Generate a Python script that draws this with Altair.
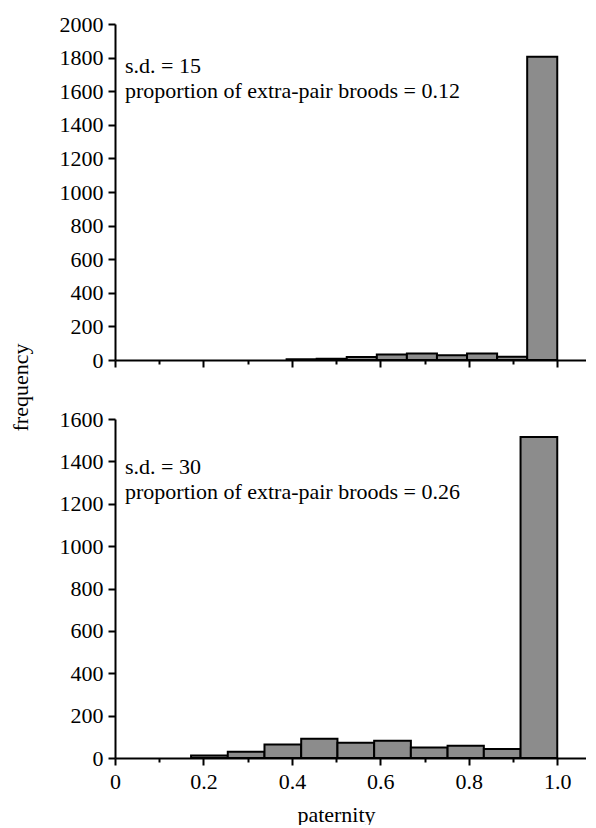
import altair as alt
import pandas as pd

# ---- data ----
top_lo = [0.388, 0.456, 0.524, 0.592, 0.660, 0.728, 0.796, 0.864, 0.932]
top_hi = [0.456, 0.524, 0.592, 0.660, 0.728, 0.796, 0.864, 0.932, 1.000]
top_count = [4, 7, 18, 32, 38, 28, 38, 20, 1805]

bot_lo = [0.172, 0.255, 0.338, 0.421, 0.503, 0.586, 0.669, 0.752, 0.834, 0.917]
bot_hi = [0.255, 0.338, 0.421, 0.503, 0.586, 0.669, 0.752, 0.834, 0.917, 1.000]
bot_count = [12, 30, 64, 91, 72, 82, 49, 58, 42, 1515]

top_text = ["s.d. = 15", "proportion of extra-pair broods = 0.12"]
bot_text = ["s.d. = 30", "proportion of extra-pair broods = 0.26"]

x_ticks = [0.0, 0.1, 0.2, 0.3, 0.4, 0.5, 0.6, 0.7, 0.8, 0.9, 1.0]
top_y_ticks = list(range(0, 2001, 200))
bot_y_ticks = list(range(0, 1601, 200))

FONT = "Liberation Serif"
FS = 22
W = 471
X_DOMAIN = [0, 1.065]

major_tick = {"condition": {"test": "round(datum.value*10) % 2 == 0", "value": 7}, "value": 4}


def panel(lo, hi, counts, ymax, yticks, lines, height, bottom):
    df = pd.DataFrame({"lo": lo, "hi": hi, "count": counts})
    if bottom:
        xaxis = alt.Axis(values=x_ticks, tickSize=major_tick, labelFlush=False,
                         labelOverlap=False, labelPadding=6,
                         labelExpr="round(datum.value*10) % 2 == 0 ? (datum.value == 0 ? '0' : format(datum.value, '.1f')) : ''",
                         title="paternity", titleX=221, titleY=63,
                         titleBaseline="alphabetic", titleAlign="center",
                         titleFontWeight="normal", titleFontSize=FS, titleFont=FONT)
        yaxis = alt.Axis(values=yticks, title=None, tickSize=7, labelPadding=5, format="d")
    else:
        xaxis = alt.Axis(values=x_ticks, tickSize=major_tick, labels=False, title=None)
        yaxis = alt.Axis(values=yticks, tickSize=7, labelPadding=5, format="d",
                         title="frequency", titleX=-88, titleY=363, titleAngle=270,
                         titleAlign="center", titleBaseline="alphabetic",
                         titleFontWeight="normal", titleFontSize=FS, titleFont=FONT)
    bars = alt.Chart(df).mark_rect(fill="#8c8c8c", stroke="black", strokeWidth=2).encode(
        x=alt.X("lo:Q", scale=alt.Scale(domain=X_DOMAIN, nice=False, zero=False), axis=xaxis),
        x2="hi:Q",
        y=alt.Y("count:Q", scale=alt.Scale(domain=[0, ymax], nice=False), axis=yaxis),
        y2=alt.datum(0),
    )
    layers = [bars]
    base_y = 49 if not bottom else 55
    for i, line in enumerate(lines):
        t = alt.Chart(pd.DataFrame({"t": [line]})).mark_text(
            align="left", baseline="alphabetic", font=FONT, fontSize=FS, color="black"
        ).encode(x=alt.value(10), y=alt.value(base_y + 25 * i), text="t:N")
        layers.append(t)
    return alt.layer(*layers).properties(width=W, height=height)


top = panel(top_lo, top_hi, top_count, 2000, top_y_ticks, top_text, 336, False)
bot = panel(bot_lo, bot_hi, bot_count, 1600, bot_y_ticks, bot_text, 339, True)

chart = alt.vconcat(top, bot, spacing=59, bounds="flush").properties(
    padding={"left": 1, "top": 5, "right": 0, "bottom": 0},
    background="white",
).configure_axis(
    labelFont=FONT, labelFontSize=FS, labelColor="black",
    domainColor="black", domainWidth=2, tickColor="black", tickWidth=2,
    grid=False,
).configure_view(stroke=None)

chart.save("out.html", embed_options={"renderer": "svg", "actions": False})
